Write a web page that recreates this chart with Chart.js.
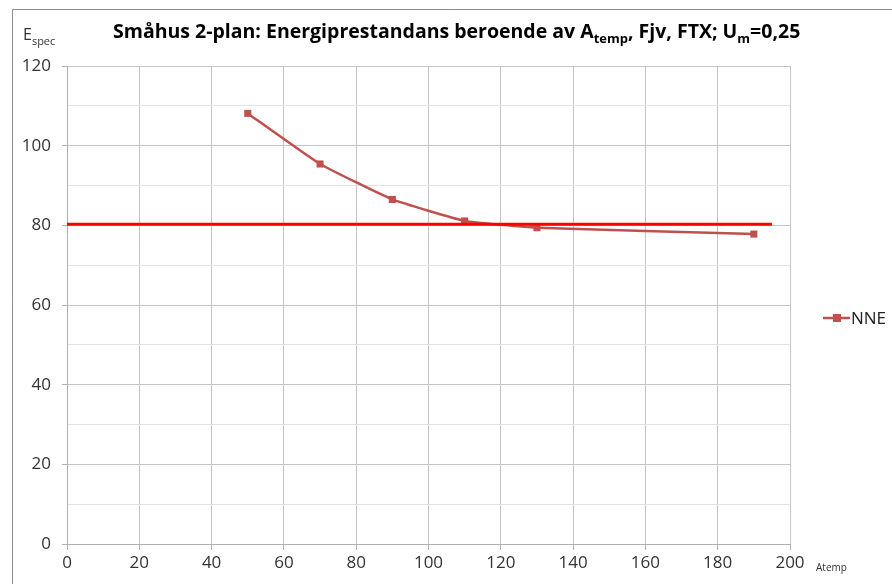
<!DOCTYPE html>
<html>
<head>
<meta charset="utf-8">
<script src="https://cdn.jsdelivr.net/npm/chart.js@4/dist/chart.umd.min.js"></script>
<style>
  html, body { margin: 0; padding: 0; background: #ffffff; }
  #wrap { position: relative; width: 892px; height: 584px; }
</style>
</head>
<body>
<div id="wrap"><canvas id="c" width="892" height="584"></canvas></div>
<script>
// ---- data ----
const atemp = [50, 70, 90, 110, 130, 190];
const nne = [108.1, 95.4, 86.5, 81.1, 79.4, 77.8];
const limitX = [0, 195];
const limitY = [80.3, 80.3];
const xTicks = [0, 20, 40, 60, 80, 100, 120, 140, 160, 180, 200];
const yTicks = [0, 20, 40, 60, 80, 100, 120];
const seriesName = 'NNE';
const titleParts = [
  ['Småhus 2-plan: Energiprestandans beroende av A', false],
  ['temp', true],
  [', Fjv, FTX; U', false],
  ['m', true],
  ['=0,25', false]
];

const FONT = '"Open Sans", "Noto Sans", sans-serif';
const nneColor = '#C0504D';

const decor = {
  id: 'decor',
  afterDraw(chart) {
    const ctx = chart.ctx;
    ctx.save();
    // frame
    ctx.strokeStyle = '#8c8c8c';
    ctx.lineWidth = 1;
    ctx.beginPath();
    ctx.moveTo(12.5, 584);
    ctx.lineTo(12.5, 9.5);
    ctx.lineTo(892, 9.5);
    ctx.stroke();

    // title with subscripts
    ctx.fillStyle = '#000';
    ctx.textBaseline = 'alphabetic';
    ctx.textAlign = 'left';
    let x = 113;
    const base = 38;
    for (const [t, sub] of titleParts) {
      ctx.font = sub ? 'bold 13px ' + FONT : 'bold 19.5px ' + FONT;
      ctx.fillText(t, x, sub ? base + 5 : base);
      x += ctx.measureText(t).width;
    }

    // y axis title E_spec
    ctx.fillStyle = '#333';
    ctx.font = '16px ' + FONT;
    ctx.fillText('E', 23, 40);
    const ew = ctx.measureText('E').width;
    ctx.font = '11px ' + FONT;
    ctx.fillText('spec', 23 + ew, 45);

    // x axis title
    ctx.font = '10px ' + FONT;
    ctx.fillText('Atemp', 816, 571);

    // legend
    const ly = 318;
    ctx.strokeStyle = nneColor;
    ctx.lineWidth = 2.5;
    ctx.beginPath();
    ctx.moveTo(823, ly);
    ctx.lineTo(850, ly);
    ctx.stroke();
    ctx.fillStyle = nneColor;
    ctx.fillRect(833, ly - 4, 8, 8);
    ctx.fillStyle = '#222';
    ctx.font = '17px ' + FONT;
    ctx.textBaseline = 'middle';
    ctx.fillText(seriesName, 851, ly + 1);
    ctx.restore();
  }
};

new Chart(document.getElementById('c'), {
  type: 'line',
  data: {
    datasets: [
      {
        label: seriesName,
        data: atemp.map((v, i) => ({ x: v, y: nne[i] })),
        borderColor: nneColor,
        backgroundColor: nneColor,
        borderWidth: 2.5,
        pointStyle: 'rect',
        pointRadius: 5,
        pointBorderWidth: 0,
        tension: 0.12,
        order: 2
      },
      {
        label: 'limit',
        data: limitX.map((v, i) => ({ x: v, y: limitY[i] })),
        borderColor: '#FF0000',
        borderWidth: 3,
        pointRadius: 0,
        order: 1
      }
    ]
  },
  options: {
    responsive: false,
    animation: false,
    devicePixelRatio: 1,
    layout: { padding: { left: 0, top: 66, right: 102, bottom: 0 } },
    plugins: {
      legend: { display: false },
      title: { display: false },
      tooltip: { enabled: false }
    },
    scales: {
      x: {
        type: 'linear',
        min: 0, max: 200,
        afterBuildTicks: s => { s.ticks = xTicks.map(v => ({ value: v })); },
        afterFit: s => { s.height = 40; },
        ticks: { color: '#333', font: { family: FONT, size: 17 }, padding: 3, maxRotation: 0 },
        grid: { color: '#c4c4c4', tickColor: '#b0b0b0', tickLength: 6, lineWidth: 1 },
        border: { color: '#b0b0b0' }
      },
      y: {
        type: 'linear',
        min: 0, max: 120,
        afterBuildTicks: s => {
          const t = [];
          for (let v = 0; v <= 120; v += 10) t.push({ value: v });
          s.ticks = t;
        },
        afterFit: s => { s.width = 67; },
        ticks: {
          color: '#333',
          font: { family: FONT, size: 17 },
          padding: 11,
          callback: v => (yTicks.includes(v) ? String(v) : '')
        },
        grid: {
          color: ctx => (ctx.tick && yTicks.includes(ctx.tick.value) ? '#c4c4c4' : '#e2e2e2'),
          tickColor: ctx => (ctx.tick && yTicks.includes(ctx.tick.value) ? '#b0b0b0' : 'rgba(0,0,0,0)'),
          tickLength: 5,
          lineWidth: 1
        },
        border: { color: '#b0b0b0' }
      }
    }
  },
  plugins: [decor]
});
</script>
</body>
</html>
